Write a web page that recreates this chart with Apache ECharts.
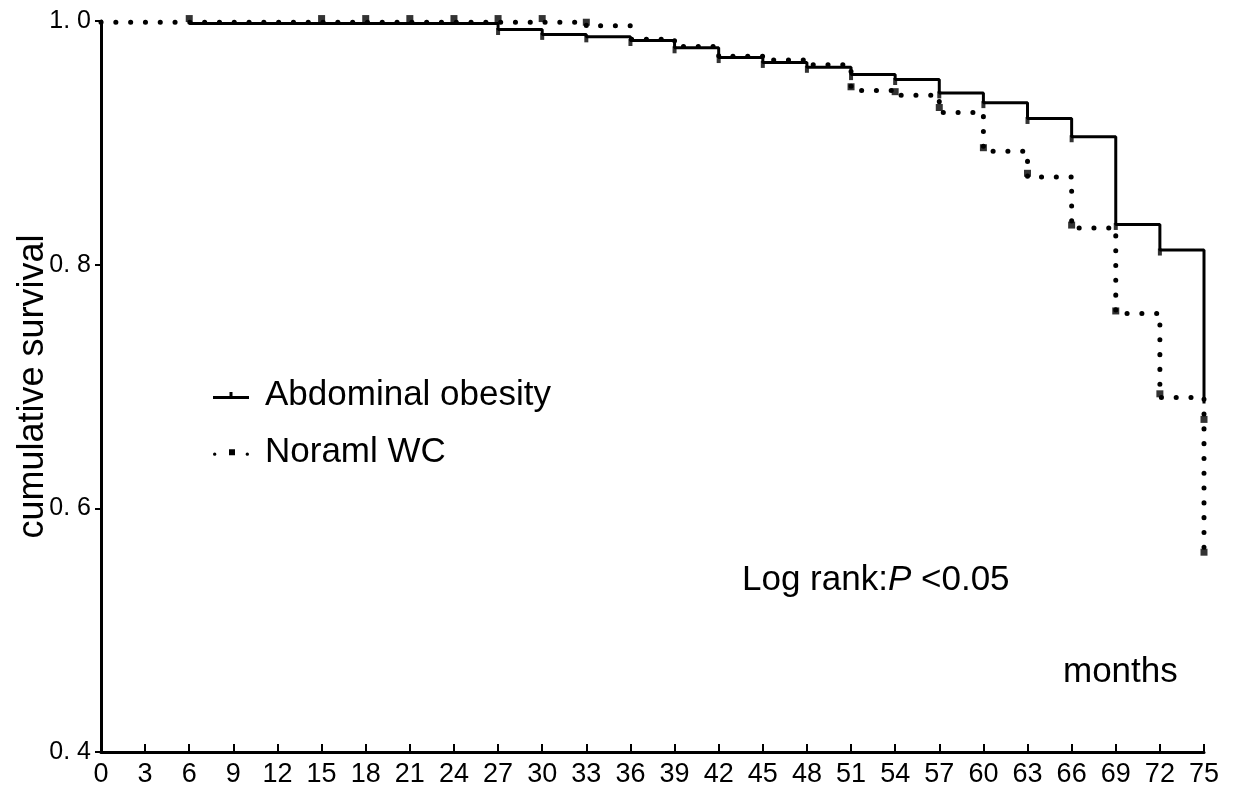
<!DOCTYPE html>
<html>
<head>
<meta charset="utf-8">
<script src="https://cdn.jsdelivr.net/npm/echarts@6/dist/echarts.min.js"></script>
<style>
html,body{margin:0;padding:0;background:#fff;}
#chart{width:1235px;height:789px;}
</style>
</head>
<body>
<div id="chart"></div>
<script>
// Abdominal obesity (solid) step curve: time in months, cumulative survival
const abdTimes  = [6, 27, 30, 33, 36, 39, 42, 45, 48, 51, 54, 57, 60, 63, 66, 69, 72, 75];
const abdValues = [0.998, 0.993, 0.989, 0.987, 0.984, 0.978, 0.970, 0.966, 0.962, 0.956, 0.952, 0.941, 0.933, 0.920, 0.905, 0.833, 0.812, 0.686];

// Noraml WC (dotted) step curve
const norTimes  = [0, 33, 36, 39, 42, 45, 48, 51, 54, 57, 60, 63, 66, 69, 72, 75];
const norValues = [0.999, 0.996, 0.985, 0.979, 0.971, 0.968, 0.964, 0.943, 0.939, 0.925, 0.893, 0.872, 0.830, 0.760, 0.691, 0.564];

// Censor marks of Noraml WC (squares)
const norCensorTimes  = [6, 15, 18, 21, 24, 27, 30, 33, 51, 54, 57, 60, 63, 66, 69, 72, 75, 75];
const norCensorValues = [1.002, 1.002, 1.002, 1.002, 1.002, 1.002, 1.002, 0.999, 0.946, 0.942, 0.929, 0.896, 0.875, 0.8325, 0.762, 0.694, 0.673, 0.564];

// Censor ticks of Abdominal obesity
const abdCensorTimes  = [27, 30, 33, 36, 39, 42, 45, 48, 51, 54, 57, 60, 63, 66, 69, 72];
const abdCensorValues = [0.993, 0.989, 0.987, 0.984, 0.978, 0.970, 0.966, 0.962, 0.956, 0.952, 0.941, 0.933, 0.920, 0.905, 0.833, 0.812];

const xMin = 0, xMax = 75, xStep = 3;
const yMin = 0.4, yMax = 1.0, yStep = 0.2;

const zip = (a, b) => a.map((t, i) => [t, b[i]]);
const SANS = "'Liberation Sans', Arial, sans-serif";

const chart = echarts.init(document.getElementById('chart'), null, {renderer: 'canvas'});
const option = {
  backgroundColor: '#fff',
  animation: false,
  grid: {left: 101, right: 31, top: 21, bottom: 37, containLabel: false, outerBoundsMode: 'none'},
  xAxis: {
    type: 'value', min: xMin, max: xMax, interval: xStep,
    axisLine: {show: true, lineStyle: {color: '#000', width: 3}},
    axisTick: {show: true, inside: true, length: 8, lineStyle: {color: '#000', width: 2}},
    axisLabel: {color: '#000', fontFamily: SANS, fontSize: 27, margin: 9},
    splitLine: {show: false}
  },
  yAxis: {
    type: 'value', min: yMin, max: yMax, interval: yStep,
    name: 'cumulative survival', nameLocation: 'middle', nameGap: 50, nameMoveOverlap: false,
    nameTextStyle: {color: '#000', fontFamily: SANS, fontSize: 36},
    axisLine: {show: true, lineStyle: {color: '#000', width: 3}},
    axisTick: {show: true, inside: false, length: 6, lineStyle: {color: '#000', width: 2}},
    axisLabel: {
      color: '#000', fontFamily: SANS, fontSize: 25, margin: 10,
      formatter: v => v.toFixed(1).replace('.', '. ')
    },
    splitLine: {show: false}
  },
  legend: {
    orient: 'vertical', left: 208, top: 373, itemGap: 22,
    itemWidth: 36, itemHeight: 7,
    textStyle: {color: '#000', fontFamily: SANS, fontSize: 35, padding: [0, 0, 0, 11]},
    itemStyle: {color: '#000', borderWidth: 0},
    data: [
      {name: 'Abdominal obesity', icon: 'path://M0,6h36v3h-36z M16.5,2h3v4h-3z'},
      {name: 'Noraml WC', icon: 'path://M0,7a1.7,1.7 0 1,0 3.4,0a1.7,1.7 0 1,0 -3.4,0z M16,2h6v6h-6z M32.6,7a1.7,1.7 0 1,0 3.4,0a1.7,1.7 0 1,0 -3.4,0z'}
    ]
  },
  graphic: [
    {
      type: 'text', left: 742, top: 563,
      style: {
        text: '{a|Log rank:}{b|P}{a| <0.05}',
        rich: {
          a: {fontFamily: SANS, fontSize: 35, fill: '#000'},
          b: {fontFamily: SANS, fontSize: 35, fontStyle: 'italic', fill: '#000'}
        }
      }
    },
    {
      type: 'text', left: 1063, top: 655,
      style: {text: 'months', fontFamily: SANS, fontSize: 35, fill: '#000'}
    }
  ],
  series: [
    {
      name: 'Noraml WC', type: 'line', step: 'end', symbol: 'none', z: 2,
      data: zip(norTimes, norValues),
      itemStyle: {color: '#000'},
      lineStyle: {color: '#000', width: 5, type: [0.1, 14.7], cap: 'round'}
    },
    {
      name: 'Abdominal obesity', type: 'line', step: 'end', symbol: 'none', z: 3,
      data: zip(abdTimes, abdValues),
      itemStyle: {color: '#000'},
      lineStyle: {color: '#000', width: 3}
    },
    {
      name: 'Noraml WC', type: 'scatter', symbol: 'rect', symbolSize: 7, z: 4, clip: false,
      data: zip(norCensorTimes, norCensorValues),
      itemStyle: {color: '#000'}
    },
    {
      name: 'Abdominal obesity', type: 'scatter', symbol: 'rect', symbolSize: [4, 7], symbolOffset: [0, 2], z: 4, clip: false,
      data: zip(abdCensorTimes, abdCensorValues),
      itemStyle: {color: '#000'}
    }
  ]
};
chart.setOption(option);
</script>
</body>
</html>
